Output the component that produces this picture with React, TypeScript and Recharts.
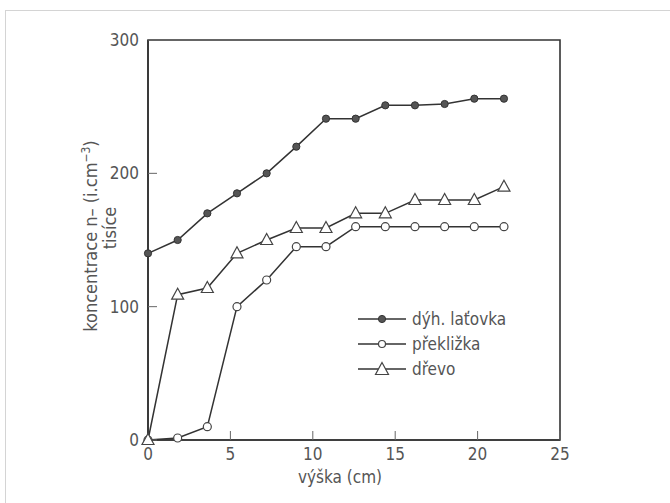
import React from 'react';
import { LineChart, Line, XAxis, YAxis, ReferenceArea } from 'recharts';

const heights = [0, 1.8, 3.6, 5.4, 7.2, 9.0, 10.8, 12.6, 14.4, 16.2, 18.0, 19.8, 21.6];
const dyhLatovka = [140, 150, 170, 185, 200, 220, 241, 241, 251, 251, 252, 256, 256];
const preklizka = [0, 1.5, 10, 100, 120, 145, 145, 160, 160, 160, 160, 160, 160];
const drevo = [0, 109, 114, 140, 150, 159, 159, 170, 170, 180, 180, 180, 190];
const xTicks = [0, 5, 10, 15, 20, 25];
const yTicks = [0, 100, 200, 300];
const seriesNames = ['dýh. laťovka', 'překližka', 'dřevo'];

const data = heights.map((h, i) => ({
  h,
  a: dyhLatovka[i],
  b: preklizka[i],
  c: drevo[i],
}));

const FONT = '"DejaVu Sans Condensed", "Liberation Sans", sans-serif';
const TXT = '#555';
const LN = '#333';

const FilledDot = (p: any) => (
  <circle cx={p.cx} cy={p.cy} r={3.6} fill="#555" stroke="#333" strokeWidth={1} />
);
const OpenDot = (p: any) => (
  <circle cx={p.cx} cy={p.cy} r={4} fill="#fff" stroke="#444" strokeWidth={1.2} />
);
const TriDot = (p: any) => {
  const { cx, cy } = p;
  return (
    <path
      d={`M${cx},${cy - 6.5} L${cx + 6},${cy + 4.5} L${cx - 6},${cy + 4.5} Z`}
      fill="#fff"
      stroke="#444"
      strokeWidth={1.2}
    />
  );
};

const LegendBox = () => {
  const rows = [
    { name: seriesNames[0], kind: 'filled' },
    { name: seriesNames[1], kind: 'open' },
    { name: seriesNames[2], kind: 'tri' },
  ];
  return (
    <div style={{ position: 'absolute', left: 358, top: 306, fontFamily: FONT }}>
      {rows.map((r, i) => (
        <div key={i} style={{ display: 'flex', alignItems: 'center', height: 25 }}>
          <svg width={52} height={20} style={{ display: 'block' }}>
            <line x1={0} y1={10} x2={48} y2={10} stroke={LN} strokeWidth={1.5} />
            {r.kind === 'filled' && <circle cx={24} cy={10} r={3.6} fill="#555" stroke="#333" />}
            {r.kind === 'open' && <circle cx={24} cy={10} r={3.5} fill="#fff" stroke="#444" strokeWidth={1.2} />}
            {r.kind === 'tri' && (
              <path d="M24,3.5 L30.5,15.5 L17.5,15.5 Z" fill="#fff" stroke="#444" strokeWidth={1.2} />
            )}
          </svg>
          <span style={{ fontSize: 17, color: TXT, marginLeft: 2, lineHeight: '20px' }}>{r.name}</span>
        </div>
      ))}
    </div>
  );
};

const YTitle = () => (
  <g fill={TXT} fontFamily={FONT} fontSize={18}>
    <text transform="translate(97,236) rotate(-90)" textAnchor="middle">
      koncentrace n– (i.cm
      <tspan fontSize={12} dy={-7}>−3</tspan>
      <tspan dy={7}>)</tspan>
    </text>
    <text transform="translate(116,228) rotate(-90)" textAnchor="middle">
      tisíce
    </text>
  </g>
);

export default function App() {
  return (
    <div style={{ position: 'absolute', left: 0, top: 0, width: 670, height: 503, background: '#fff' }}>
      <div style={{ position: 'absolute', left: 5, top: 10, width: 665, height: 1, background: '#d4d4d4' }} />
      <div style={{ position: 'absolute', left: 5, top: 10, width: 1, height: 493, background: '#d4d4d4' }} />
      <LineChart
        width={670}
        height={503}
        data={data}
        margin={{ top: 40, right: 110, bottom: 33, left: 88 }}
        style={{ position: 'absolute', left: 0, top: 0 }}
      >
        <ReferenceArea x1={0} x2={25} y1={0} y2={300} fill="none" stroke={LN} strokeWidth={1.6} ifOverflow="extendDomain" />
        <XAxis
          dataKey="h"
          type="number"
          domain={[0, 25]}
          ticks={xTicks}
          height={30}
          tickSize={-9}
          tickMargin={17}
          axisLine={{ stroke: LN, strokeWidth: 1.6 }}
          tickLine={{ stroke: '#666', strokeWidth: 1 }}
          tick={{ fill: TXT, fontSize: 17, fontFamily: FONT }}
          label={{ value: 'výška (cm)', position: 'insideBottom', offset: -13, dx: -14, fill: TXT, fontSize: 17, fontFamily: FONT }}
        />
        <YAxis
          type="number"
          domain={[0, 300]}
          ticks={yTicks}
          width={60}
          tickSize={-9}
          tickMargin={18}
          axisLine={{ stroke: LN, strokeWidth: 1.6 }}
          tickLine={{ stroke: '#666', strokeWidth: 1 }}
          tick={{ fill: TXT, fontSize: 17, fontFamily: FONT }}
          label={{ content: () => <YTitle /> }}
        />
        <Line dataKey="a" name={seriesNames[0]} stroke={LN} strokeWidth={1.5} dot={<FilledDot />} isAnimationActive={false} />
        <Line dataKey="b" name={seriesNames[1]} stroke={LN} strokeWidth={1.5} dot={<OpenDot />} isAnimationActive={false} />
        <Line dataKey="c" name={seriesNames[2]} stroke={LN} strokeWidth={1.5} dot={<TriDot />} isAnimationActive={false} />
      </LineChart>
      <LegendBox />
    </div>
  );
}
